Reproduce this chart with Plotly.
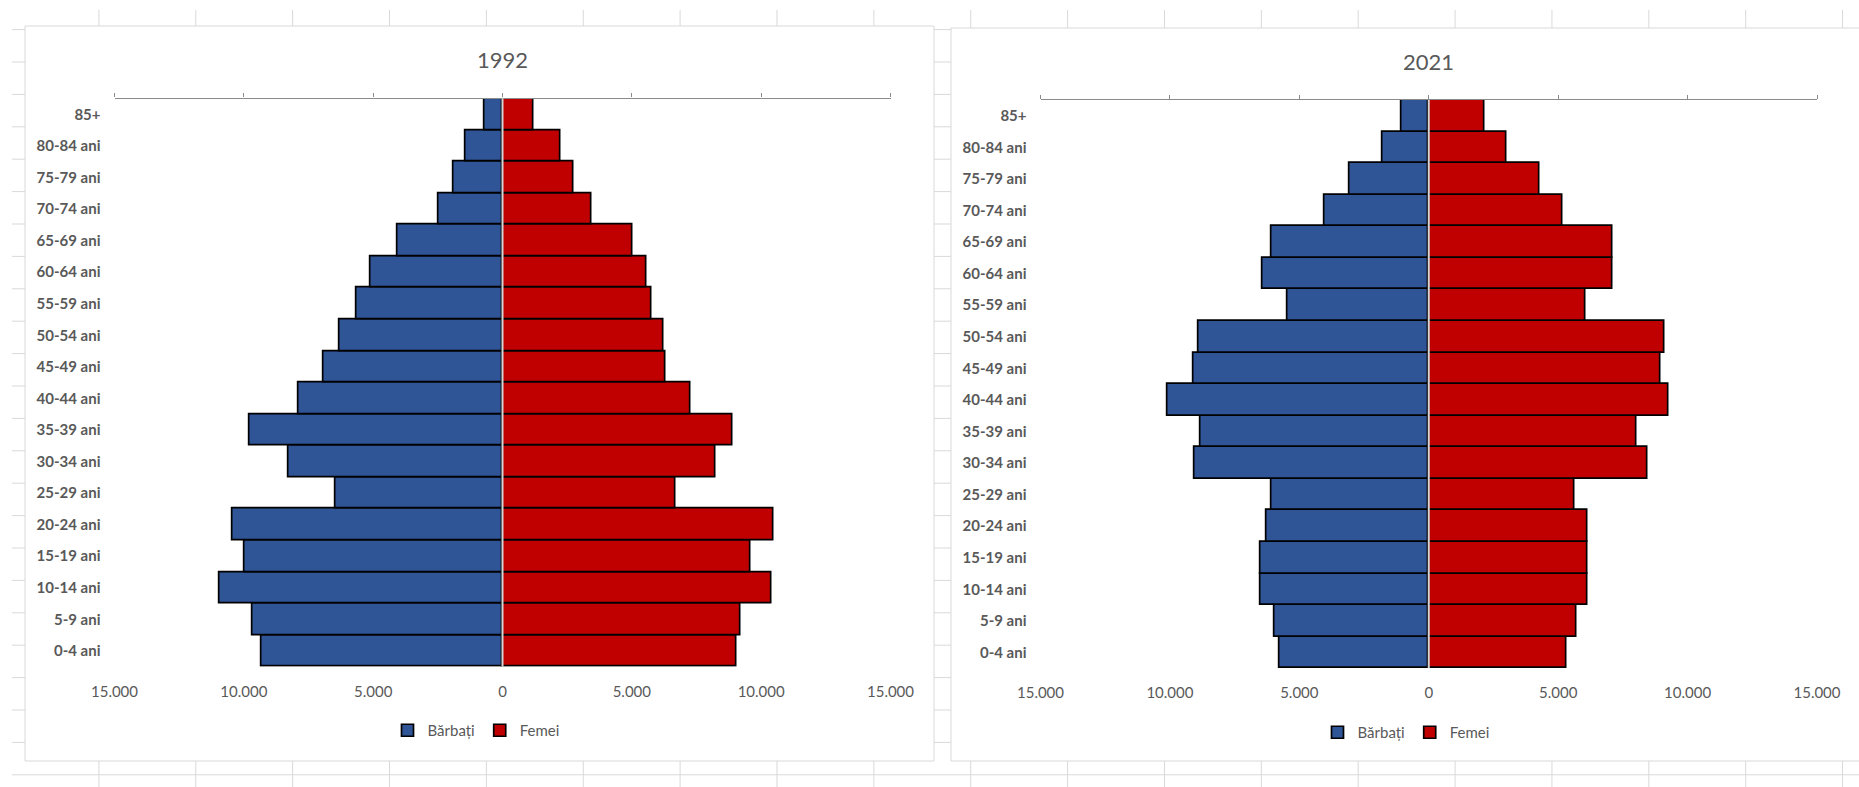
import plotly.graph_objects as go

# ---------------- data ----------------
ages = ["0-4 ani", "5-9 ani", "10-14 ani", "15-19 ani", "20-24 ani", "25-29 ani",
        "30-34 ani", "35-39 ani", "40-44 ani", "45-49 ani", "50-54 ani", "55-59 ani",
        "60-64 ani", "65-69 ani", "70-74 ani", "75-79 ani", "80-84 ani", "85+"]

barbati_1992 = [9300, 9680, 10930, 9960, 10420, 6450, 8270, 9770, 7870, 6910,
                6310, 5640, 5100, 4050, 2460, 1890, 1430, 680]
femei_1992 = [9060, 9200, 10410, 9580, 10480, 6670, 8220, 8900, 7260, 6290,
              6210, 5760, 5550, 5010, 3430, 2760, 2230, 1180]

barbati_2021 = [5750, 5970, 6490, 6490, 6270, 6060, 9050, 8830, 10090, 9100,
                8880, 5440, 6440, 6060, 4040, 3070, 1790, 1040]
femei_2021 = [5330, 5700, 6140, 6140, 6140, 5620, 8440, 8010, 9280, 8970,
              9120, 6060, 7100, 7100, 5170, 4260, 2990, 2170]

years = ["1992", "2021"]
series_names = ["Bărbați", "Femei"]
tick_vals = [-15000, -10000, -5000, 0, 5000, 10000, 15000]
tick_text = ["15.000", "10.000", "5.000", "0", "5.000", "10.000", "15.000"]

# ---------------- style / layout ----------------
W, H = 1859, 787
BLUE = "#2F5597"
RED = "#C00000"
TXT = "#595959"
GRID = "#d9d9d9"
AXLINE = "#8a8a8a"
FONT = "Lato, 'Open Sans', sans-serif"


def fx(x):
    return x / W


def fy(y):
    return 1 - y / H


# pixel geometry of the two charts
charts = [
    dict(box=(25, 26, 934, 761), plot_x=(114.5, 890.5), plot_y=(98.5, 666.7),
         title_y=60, legend=(476.0, 730.5)),
    dict(box=(951, 28, 1865, 761), plot_x=(1040.5, 1817.0), plot_y=(100.0, 668.2),
         title_y=61.5, legend=(1406.0, 732.5)),
]

fig = go.Figure()

data_sets = [(barbati_1992, femei_1992), (barbati_2021, femei_2021)]

for i, (men, women) in enumerate(data_sets):
    xa = "x" if i == 0 else "x3"
    ya = "y" if i == 0 else "y2"
    lg = "legend" if i == 0 else "legend2"
    fig.add_trace(go.Bar(
        y=ages, x=[-v for v in men], orientation="h", name=series_names[0],
        marker=dict(color=BLUE, line=dict(color="black", width=1.7)),
        customdata=men, hovertemplate="%{y}: %{customdata}<extra>Bărbați</extra>",
        xaxis=xa, yaxis=ya, legend=lg))
    fig.add_trace(go.Bar(
        y=ages, x=women, orientation="h", name=series_names[1],
        marker=dict(color=RED, line=dict(color="black", width=1.7)),
        hovertemplate="%{y}: %{x}<extra>Femei</extra>",
        xaxis=xa, yaxis=ya, legend=lg))
    # dummy trace so the top (overlay) axis gets drawn
    fig.add_trace(go.Scatter(x=[], y=[], xaxis=("x2" if i == 0 else "x4"), yaxis=ya,
                             showlegend=False, hoverinfo="skip"))

layout = dict(
    width=W, height=H,
    margin=dict(l=0, r=0, t=0, b=0, pad=0, autoexpand=False),
    paper_bgcolor="white",
    plot_bgcolor="rgba(0,0,0,0)",
    barmode="relative",
    bargap=0,
    showlegend=True,
    font=dict(family=FONT, color=TXT),
)

shapes = []
annotations = []

# spreadsheet grid behind the charts
col_x = [98.9 + 96.87 * k for k in range(19)]
row_y = [29.6 + 32.4 * k for k in range(24)]
for cx in col_x:
    shapes.append(dict(type="line", xref="paper", yref="paper", x0=fx(cx), x1=fx(cx),
                       y0=fy(10), y1=fy(H), line=dict(color=GRID, width=1), layer="below"))
for ry in row_y:
    shapes.append(dict(type="line", xref="paper", yref="paper", x0=fx(12), x1=1,
                       y0=fy(ry), y1=fy(ry), line=dict(color=GRID, width=1), layer="below"))

for i, c in enumerate(charts):
    x0, y0, x1, y1 = c["box"]
    shapes.append(dict(type="rect", xref="paper", yref="paper", x0=fx(x0), x1=fx(x1),
                       y0=fy(y1), y1=fy(y0), fillcolor="white",
                       line=dict(color=GRID, width=1), layer="below"))

    xa_b = "xaxis" if i == 0 else "xaxis3"
    xa_t = "xaxis2" if i == 0 else "xaxis4"
    ya = "yaxis" if i == 0 else "yaxis2"
    ya_ref = "y" if i == 0 else "y2"
    xa_ref = "x" if i == 0 else "x3"
    dom_x = [fx(c["plot_x"][0]), fx(c["plot_x"][1])]
    dom_y = [fy(c["plot_y"][1]), fy(c["plot_y"][0])]

    layout[xa_b] = dict(domain=dom_x, anchor=ya_ref, range=[-15000, 15000], side="bottom",
                        tickmode="array", tickvals=tick_vals, ticktext=tick_text,
                        showline=False, ticks="", showgrid=False, zeroline=False,
                        automargin=False,
                        ticklabelstandoff=14, tickfont=dict(family=FONT, size=15, color=TXT),
                        fixedrange=True)
    layout[xa_t] = dict(overlaying=xa_ref, anchor=ya_ref, side="top", range=[-15000, 15000],
                        tickmode="array", tickvals=tick_vals, showticklabels=False,
                        showline=True, linecolor=AXLINE, linewidth=1.3,
                        ticks="outside", ticklen=4, tickwidth=1.3, tickcolor=AXLINE,
                        showgrid=False, zeroline=False, automargin=False, fixedrange=True)
    layout[ya] = dict(domain=dom_y, anchor=xa_ref, type="category",
                      categoryorder="array", categoryarray=ages,
                      showline=False, ticks="", showgrid=False, zeroline=False,
                      automargin=False, ticklabelstandoff=13,
                      tickfont=dict(family=FONT, size=15, color=TXT, weight="bold"),
                      fixedrange=True)

    # vertical category axis line at zero
    shapes.append(dict(type="line", xref=xa_ref, yref=ya_ref + " domain", x0=0, x1=0,
                       y0=0, y1=1, line=dict(color="#d4d4d4", width=2), layer="above"))

    # title
    annotations.append(dict(text=years[i], xref="paper", yref="paper",
                            x=(dom_x[0] + dom_x[1]) / 2, y=fy(c["title_y"]),
                            xanchor="center", yanchor="middle", showarrow=False,
                            font=dict(family=FONT, size=22, color=TXT)))

    lg = "legend" if i == 0 else "legend2"
    layout[lg] = dict(orientation="h", x=fx(c["legend"][0]), y=fy(c["legend"][1]),
                      xanchor="center", yanchor="middle", bgcolor="rgba(0,0,0,0)",
                      font=dict(family=FONT, size=15, color=TXT), itemwidth=30,
                      traceorder="normal")

layout["shapes"] = shapes
layout["annotations"] = annotations
fig.update_layout(**layout)

fig.write_html("out.html", config={"displayModeBar": False},
               post_script="document.body.style.margin='0';document.body.style.overflow='hidden';")
